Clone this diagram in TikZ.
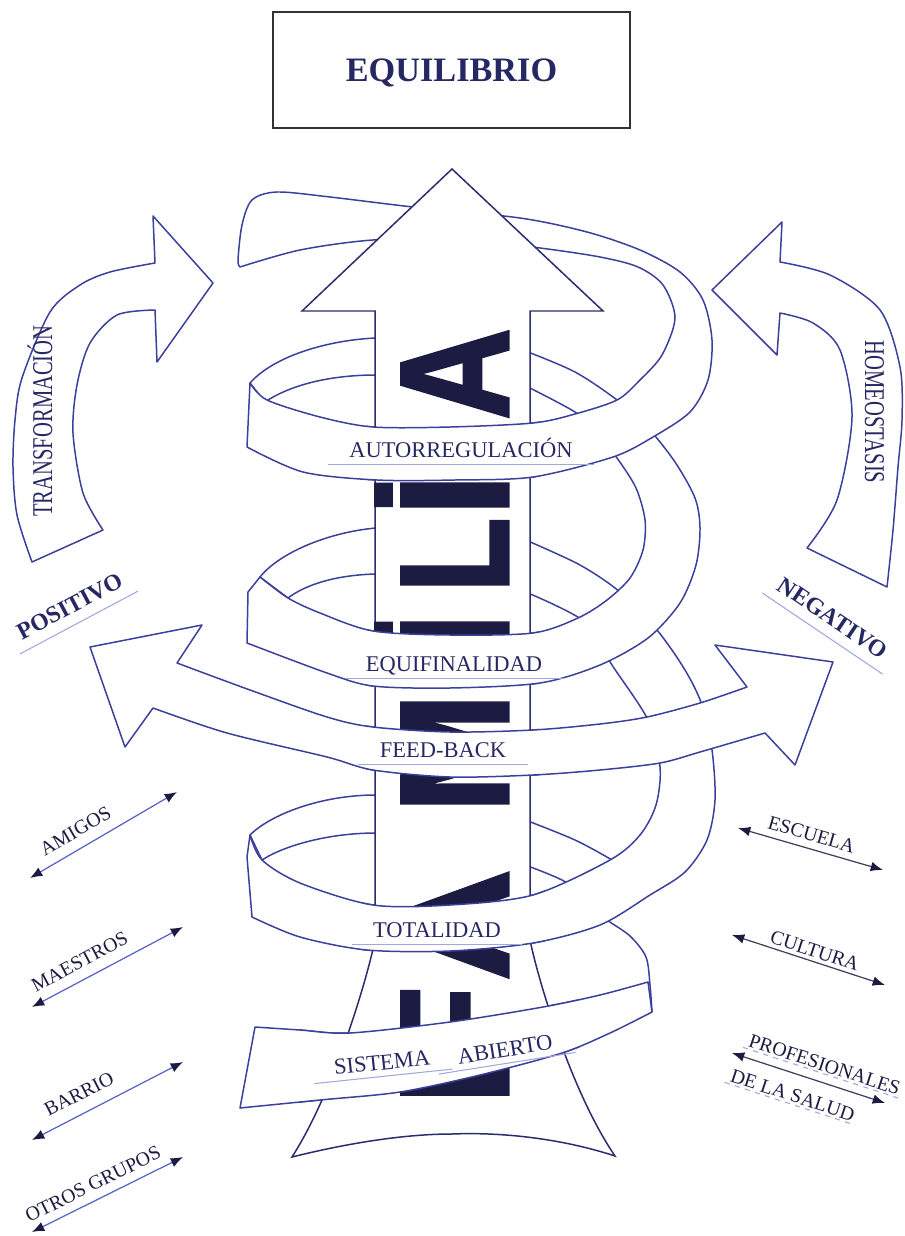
\documentclass[tikz,border=0pt]{standalone}
\usepackage{fontspec}
\setmainfont{Liberation Serif}
\newfontfamily\famfont{Liberation Sans}[BoldFeatures={FakeBold=2}]
\usepackage{tikz}
\usetikzlibrary{arrows.meta}

\definecolor{inkline}{RGB}{58,64,155}
\definecolor{inktext}{RGB}{38,40,100}
\definecolor{inkdark}{RGB}{28,28,66}
\definecolor{linkblue}{RGB}{85,98,200}
\definecolor{palerule}{RGB}{160,168,222}

% band outlines: each is drawn whole, then again over the shaft
\newcommand{\bandAuto}{plot[smooth] coordinates {(247,447) (303,472) (377,480) (455,480) (533,477) (613,457) (653,437) (690,412) (708,380) (712,340) (703,300) (680,272) (640,250) (587,232) (520,218) (413,207) (330,197) (277,192) (252,200) (242,225) (238,260) (240,267)}
  -- plot[smooth] coordinates {(240,267) (300,250) (373,240) (460,239) (540,248) (600,257) (638,267) (663,285) (675,318) (662,355) (640,380) (617,400) (575,414) (533,423) (450,427) (373,427) (320,417) (267,400) (250,383)}
  -- cycle}
\newcommand{\bandEqui}{plot[smooth] coordinates {(528,352) (575,372) (617,400) (648,428) (675,462) (695,498) (700,528) (696,565) (680,603) (648,638) (600,665) (540,683) (450,688) (373,686) (327,673) (247,643)}
  -- (248,592) -- (260,577)
  -- plot[smooth] coordinates {(260,577) (288,598) (320,613) (373,631) (450,635) (533,633) (578,618) (607,600) (630,578) (643,550) (645,520) (636,488) (617,458) (595,430) (575,412) (528,387)}
  -- cycle}
\newcommand{\bandTota}{plot[smooth] coordinates {(528,541) (580,565) (620,592) (657,630) (685,670) (702,705) (712,750) (715,800) (707,840) (685,872) (650,895) (600,925) (533,943) (450,951) (367,950) (300,937) (252,917)}
  -- (247,857) -- (250,835)
  -- plot[smooth] coordinates {(250,835) (262,860) (300,883) (373,905) (450,905) (533,895) (610,860) (640,835) (656,805) (660,767) (648,720) (612,665) (585,622) (528,593)}
  -- cycle}
\newcommand{\bandSist}{plot[smooth] coordinates {(652,1012) (610,1033) (562,1053) (480,1075) (400,1092) (320,1100) (240,1108)}
  -- (255,1027)
  -- plot[smooth] coordinates {(255,1027) (300,1030) (350,1033) (450,1022) (543,1007) (600,995) (648,982)}
  -- cycle}
\newcommand{\bandFeed}{(90,647) -- (202,625) -- (177,663)
  -- plot[smooth] coordinates {(177,663) (250,690) (327,717) (373,727) (450,732) (533,730) (600,724) (647,717) (700,703) (747,687)}
  -- (715,645) -- (833,662) -- (795,765) -- (765,733)
  -- plot[smooth] coordinates {(765,733) (700,752) (660,763) (600,770) (533,775) (450,777) (373,770) (327,757) (227,733) (153,708)}
  -- (125,747) -- cycle}

\begin{document}
\begin{tikzpicture}[x=0.02cm, y=-0.02cm,
  ribbon/.style={fill=white, draw=inkline, line width=0.85pt, line join=round},
  backline/.style={draw=inkline, line width=0.85pt},
  shaft/.style={fill=white, draw=inkline!70!black, line width=0.85pt},
  sidearrow/.style={fill=white, draw=inkline, line width=0.85pt, line join=round},
  titlebox/.style={draw=black!80, line width=0.9pt, minimum width=7.14cm, minimum height=2.32cm,
    font=\bfseries\fontsize{19.5}{22}\selectfont, text=inktext, text height=13pt, text depth=0pt},
  famletter/.style={rotate=90, anchor=base, inner sep=0pt, text=inkdark,
    font=\famfont\bfseries\fontsize{88}{88}\selectfont},
  bandtext/.style={font=\fontsize{12.8}{14}\selectfont, text=inktext, inner xsep=12pt,
    inner ysep=3.5pt, text height=9pt, text depth=0pt},
  sidetext/.style={font=\fontsize{16.3}{18}\selectfont, text=inktext, inner sep=0pt},
  signtext/.style={font=\bfseries\fontsize{13.5}{15}\selectfont, text=inktext, inner xsep=5pt,
    inner ysep=6pt, text height=9pt, text depth=0pt},
  linktext/.style={font=\fontsize{11.3}{12}\selectfont, text=inkdark, inner xsep=2pt,
    inner ysep=1pt, text height=7.5pt, text depth=0pt, sloped},
  underline/.style={draw=palerule, line width=0.6pt},
  duo/.style={{Latex[length=7pt,width=5.5pt,color=inkdark]}-{Latex[length=7pt,width=5.5pt,color=inkdark]},
    line width=0.7pt, draw=linkblue}
]
\useasboundingbox (0,0) rectangle (904,1236);

% title
\node[titlebox] (equilibrio) at (451.5,70) {EQUILIBRIO};

% side loops
\draw[sidearrow] (213,283) -- (157,362) -- (155,310)
  -- plot[smooth] coordinates {(155,310) (117,315) (90,343) (77,385) (73,433) (83,493) (103,530)}
  -- (32,562)
  -- plot[smooth] coordinates {(32,562) (17,515) (13,467) (15,420) (22,378) (50,312) (80,285) (110,272) (155,263)}
  -- (153,216) -- cycle;
\draw[sidearrow] (712,290) -- (782,222) -- (780,262)
  -- plot[smooth] coordinates {(780,262) (830,275) (880,310) (900,367) (902,420) (898,467) (893,530) (887,587)}
  -- (807,548)
  -- plot[smooth] coordinates {(807,548) (837,500) (852,417) (840,350) (813,323) (780,313)}
  -- (777,355) -- cycle;
\node[sidetext, rotate=90, anchor=base] (transf) at (52,421) {\scalebox{0.72}[1]{TRANSFORMACIÓN}};
\node[sidetext, rotate=-90, anchor=base] (homeo) at (865,412) {\scalebox{0.72}[1]{HOMEOSTASIS}};

% helix, back to front
\draw[ribbon] (376,338) .. controls (330,340) and (275,355) .. (250,383) -- (265,402)
  .. controls (290,385) and (330,375) .. (376,375) -- cycle;
\draw[ribbon] (376,528) .. controls (330,532) and (280,552) .. (260,577) -- (288,598)
  .. controls (305,585) and (335,575) .. (376,574) -- cycle;
\draw[ribbon] (376,795) .. controls (320,795) and (270,815) .. (250,835) -- (262,860)
  .. controls (285,845) and (330,833) .. (376,833) -- cycle;
% lowest turn, coming round from behind
\draw[backline] plot[smooth] coordinates {(528,821) (575,840) (612,860) (632,874)};
\draw[backline] plot[smooth] coordinates {(528,866) (562,880) (588,897)};
\draw[ribbon] \bandSist;
\draw[backline] plot[smooth] coordinates {(590,906) (607,920) (630,936) (646,957) (650,985) (652,1012)};
\draw[ribbon] \bandTota;
\draw[ribbon] \bandEqui;
\draw[ribbon] \bandAuto;
\draw[ribbon] \bandFeed;

% the big arrow
\draw[shaft] (452,169) -- (603,311) -- (530,311) -- (530,940)
  .. controls (537,975) and (570,1090) .. (615,1156)
  .. controls (560,1138) and (500,1132) .. (452,1134)
  .. controls (400,1134) and (340,1145) .. (292,1157)
  .. controls (335,1090) and (368,975) .. (375,940) -- (375,311) -- (302,311) -- cycle;

% FAMILIA, bottom to top
\node[famletter] (famF) at (508,1046) {\scalebox{1.3}[1]{F}};
\node[famletter] (famA) at (508,925) {A};
\node[famletter] (famM) at (508,753) {\scalebox{0.93}[1]{M}};
\node[famletter] (famI) at (508,634) {İ};
\node[famletter] (famL) at (508,555) {\scalebox{0.8}[1]{L}};
\node[famletter] (famIi) at (508,495) {İ};
\node[famletter] (famAa) at (508,374) {\scalebox{0.82}[1]{A}};

% bands again, in front of the shaft
\begin{scope} \clip (366,405) rectangle (540,495); \draw[ribbon] \bandAuto; \end{scope}
\begin{scope} \clip (366,620) rectangle (540,700); \draw[ribbon] \bandEqui; \end{scope}
\begin{scope} \clip (366,712) rectangle (540,790); \draw[ribbon] \bandFeed; \end{scope}
\begin{scope} \clip (362,885) rectangle (545,962); \draw[ribbon] \bandTota; \end{scope}
\begin{scope} \clip (300,990) rectangle (580,1115); \draw[ribbon] \bandSist; \end{scope}

% band labels
\node[bandtext] (auto) at (461,450) {AUTORREGULACIÓN};
\node[bandtext] (equi) at (454,664) {EQUIFINALIDAD};
\node[bandtext] (feed) at (443,750) {FEED-BACK};
\node[bandtext] (tota) at (437,930) {TOTALIDAD};
\node[bandtext, rotate=6] (sist) at (382,1062) {SISTEMA};
\node[bandtext, rotate=9] (abie) at (505,1049) {ABIERTO};
\foreach \lbl in {auto,equi,feed,tota,sist,abie}
  \draw[underline] (\lbl.south west) -- (\lbl.south east);

% feedback signs
\node[signtext, rotate=28] (positivo) at (70,606) {POSITIVO};
\node[signtext, rotate=-34] (negativo) at (833,618) {NEGATIVO};
\draw[underline] (positivo.south west) -- (positivo.south east);
\draw[underline] (negativo.south west) -- (negativo.south east);

% links on the left
\coordinate (amigosL) at (30,878);   \coordinate (amigosR) at (177,792);
\coordinate (maestL) at (32,1007);   \coordinate (maestR) at (183,927);
\coordinate (barrioL) at (32,1140);  \coordinate (barrioR) at (183,1062);
\coordinate (otrosL) at (32,1232);   \coordinate (otrosR) at (183,1157);
\draw[duo] (amigosL) -- node[linktext, above=5pt, pos=0.37] (amigos) {AMIGOS} (amigosR);
\draw[duo] (maestL) -- node[linktext, above=5pt, pos=0.37] (maestros) {MAESTROS} (maestR);
\draw[duo] (barrioL) -- node[linktext, above=6pt, pos=0.37] (barrio) {BARRIO} (barrioR);
\draw[duo] (otrosL) -- node[linktext, above=4pt, pos=0.45] (otros) {OTROS GRUPOS} (otrosR);

% links on the right
\coordinate (escL) at (738,828);  \coordinate (escR) at (883,870);
\coordinate (culL) at (732,935);  \coordinate (culR) at (885,985);
\coordinate (proL) at (732,1053); \coordinate (proR) at (885,1103);
\draw[duo, draw=inkdark!85] (escL) -- node[linktext, above=3pt, pos=0.48] (escuela) {ESCUELA} (escR);
\draw[duo, draw=inkdark!85] (culL) -- node[linktext, above=1pt, pos=0.52] (cultura) {CULTURA} (culR);
\draw[duo, draw=inkdark!85] (proL) -- node[linktext, above=5pt, pos=0.57] (prof) {PROFESIONALES}
  node[linktext, below=7pt, pos=0.44] (salud) {DE LA SALUD} (proR);
\draw[underline, dashed] (prof.south west) -- (prof.south east);
\draw[underline, dashed] (salud.south west) -- (salud.south east);

\end{tikzpicture}
\end{document}
